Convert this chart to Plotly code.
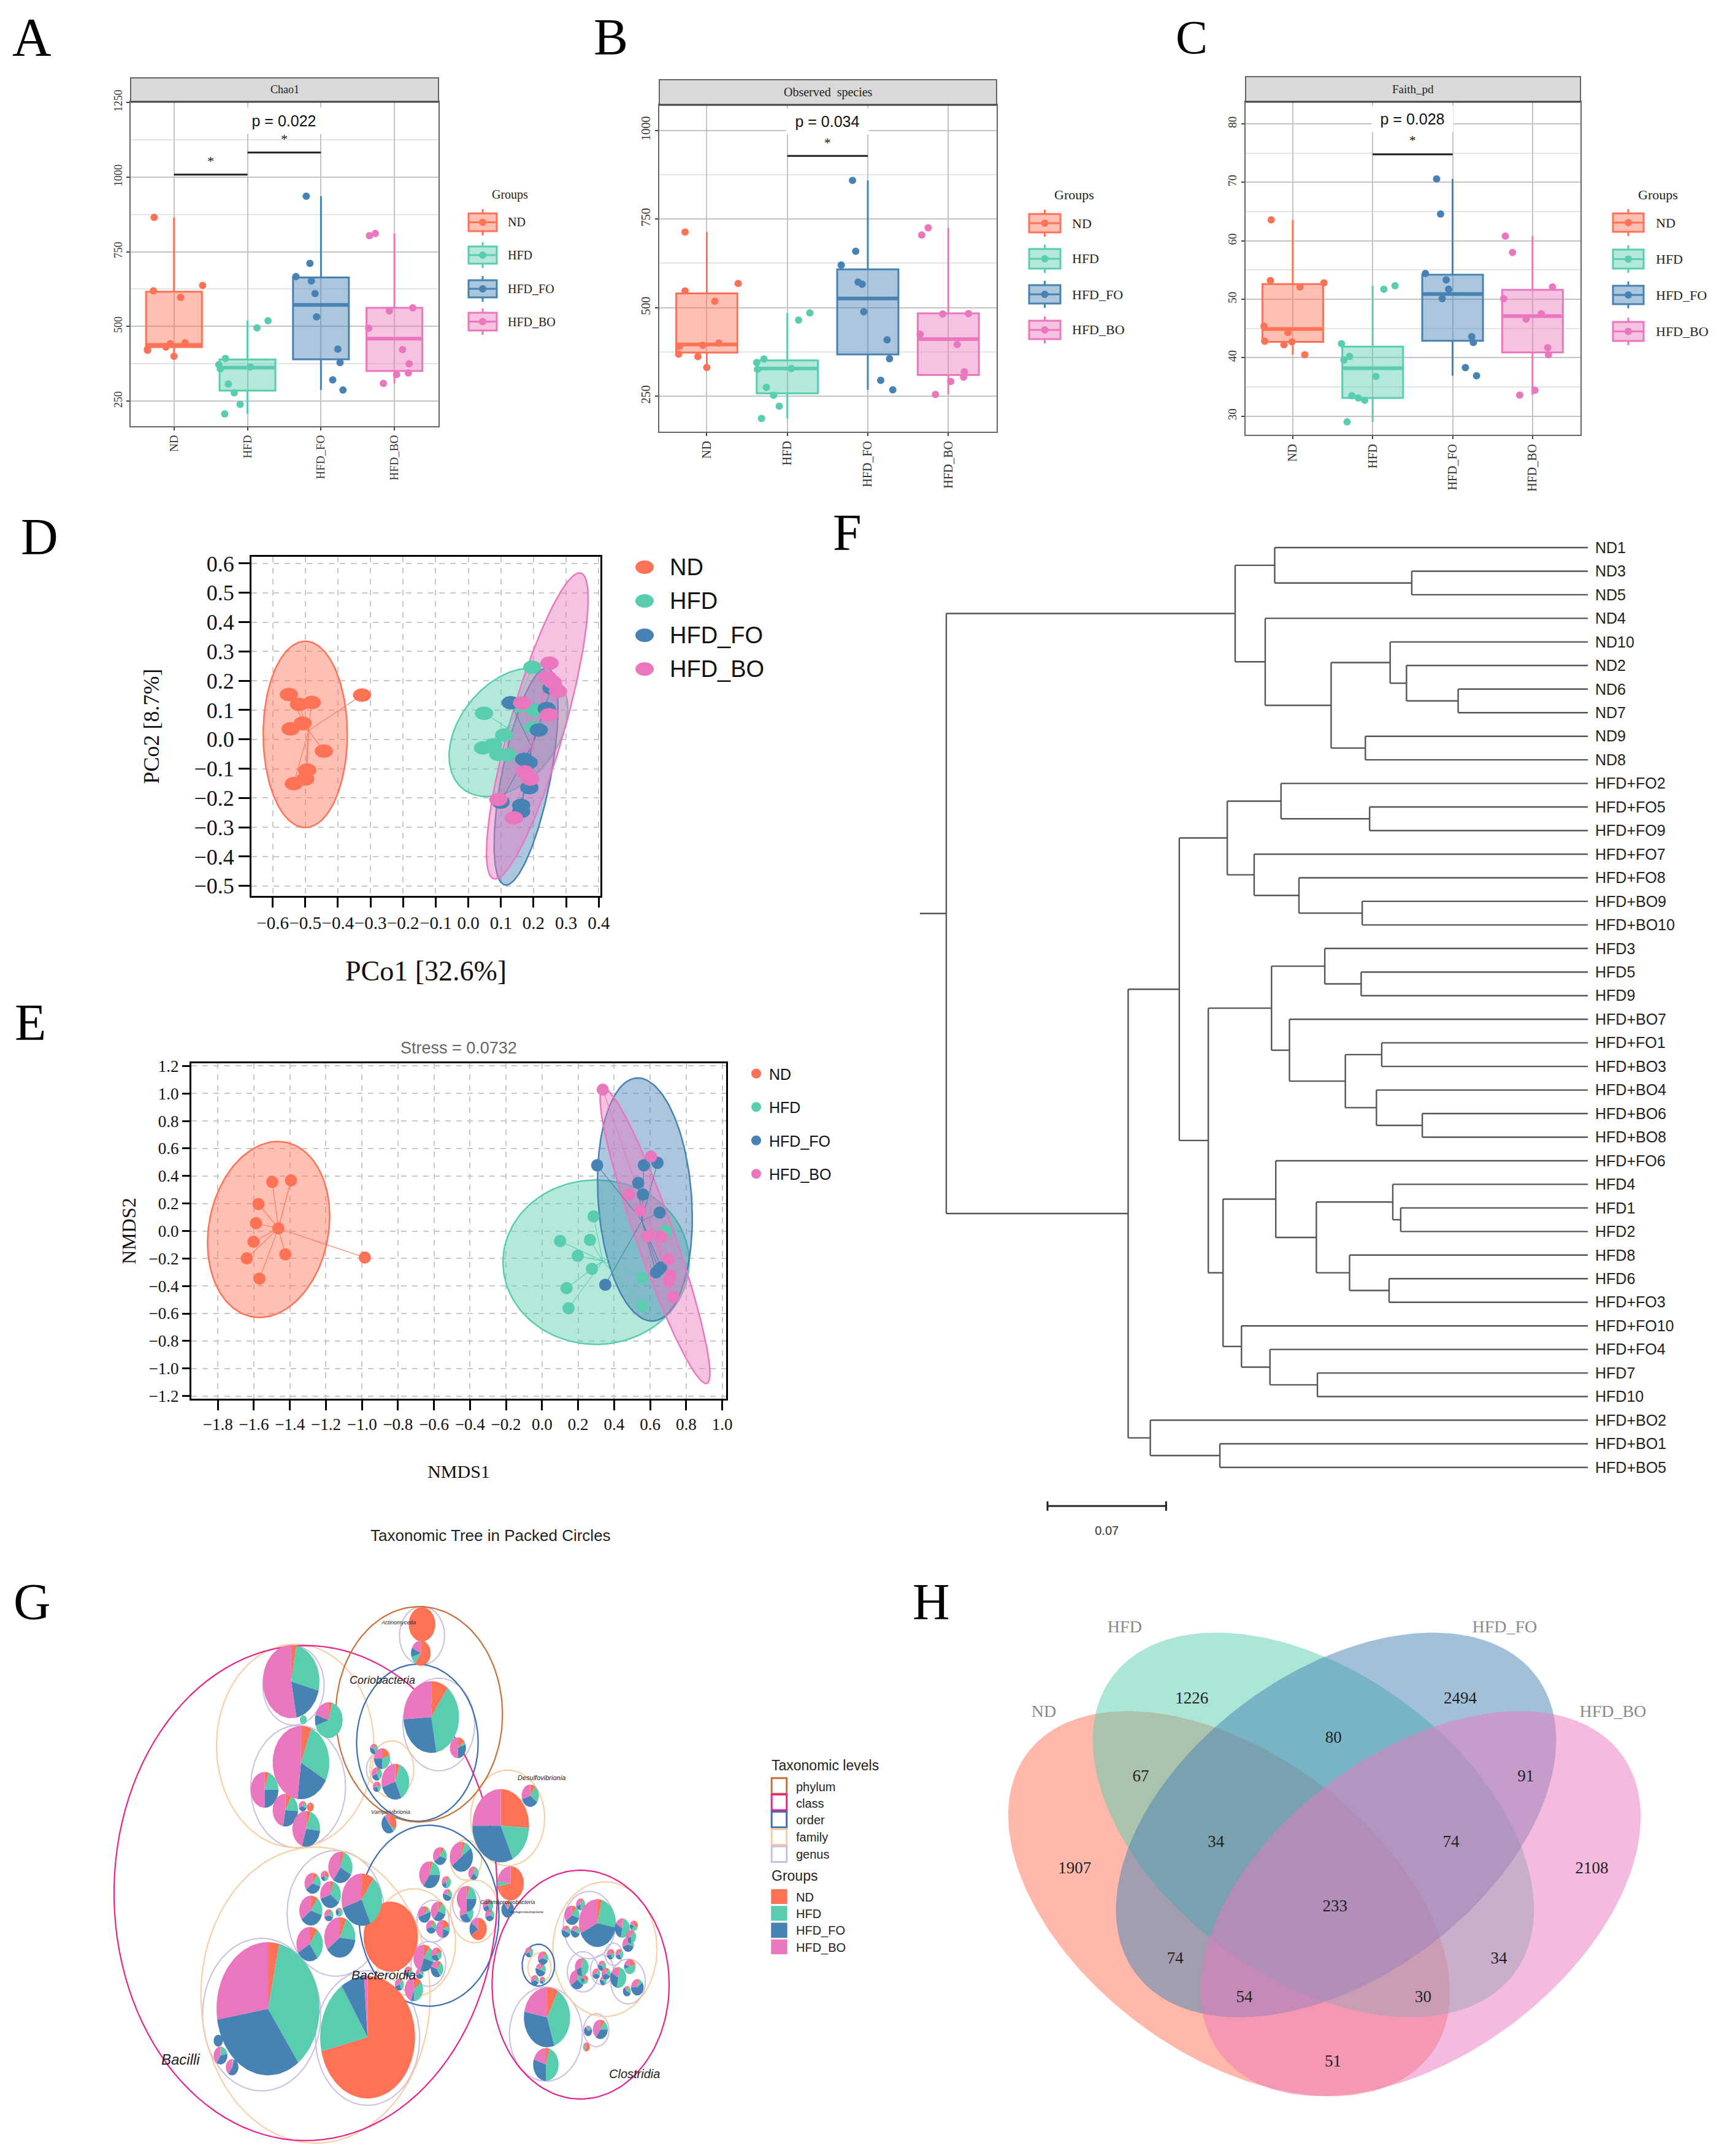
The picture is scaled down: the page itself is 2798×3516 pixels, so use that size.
import numpy as np
import plotly.graph_objects as go

W, H = 2798, 3516
SERIF = "Liberation Serif"
SANS = "Liberation Sans"

groups = ["ND", "HFD", "HFD_FO", "HFD_BO"]
colors = {"ND": "#FF7256", "HFD": "#58CDB0", "HFD_FO": "#4682B4", "HFD_BO": "#EA77BE"}


def rgba(hexc, a):
    return f"rgba({int(hexc[1:3],16)},{int(hexc[3:5],16)},{int(hexc[5:7],16)},{a})"


# ---------- A: Chao1 ----------
chao_x = {
    "ND": [0.73, 1.39, 0.72, 1.09, 0.95, 1.15, 0.89, 0.64, 1.0, 0.64],
    "HFD": [2.28, 2.13, 1.70, 1.61, 1.63, 2.04, 1.74, 1.82, 1.90, 1.69],
    "HFD_FO": [2.80, 2.85, 2.66, 2.87, 2.92, 2.94, 3.23, 3.26, 3.16, 3.30],
    "HFD_BO": [3.74, 3.66, 4.25, 3.93, 3.65, 4.11, 4.20, 4.19, 4.03, 3.85],
}
chao_y = {
    "ND": [865, 637, 619, 597, 442, 445, 431, 420, 400, 424],
    "HFD": [519, 495, 393, 372, 358, 364, 307, 278, 239, 207],
    "HFD_FO": [936, 711, 667, 652, 610, 532, 424, 379, 321, 287],
    "HFD_BO": [811, 804, 562, 552, 494, 422, 375, 344, 339, 309],
}
chao_box = {  # q1, median, q3, low, high
    "ND": [431, 438, 616, 400, 865],
    "HFD": [285, 362, 389, 207, 519],
    "HFD_FO": [390, 572, 664, 287, 936],
    "HFD_BO": [351, 459, 562, 309, 811],
}
# ---------- B: Observed species ----------
obs_x = {
    "ND": [0.73, 1.39, 0.73, 1.10, 0.95, 1.15, 0.66, 0.65, 0.89, 1.0],
    "HFD": [2.28, 2.14, 1.71, 1.62, 1.63, 2.05, 1.74, 1.83, 1.90, 1.68],
    "HFD_FO": [2.81, 2.85, 2.67, 2.88, 2.93, 2.95, 3.24, 3.27, 3.16, 3.31],
    "HFD_BO": [3.75, 3.67, 3.93, 4.25, 3.65, 4.11, 4.20, 4.19, 4.03, 3.84],
}
obs_y = {
    "ND": [713, 568, 547, 518, 394, 400, 391, 369, 362, 331],
    "HFD": [485, 465, 355, 345, 326, 328, 275, 253, 222, 187],
    "HFD_FO": [859, 659, 620, 572, 566, 488, 409, 356, 295, 268],
    "HFD_BO": [725, 705, 482, 483, 425, 396, 319, 304, 292, 255],
}
obs_box = {
    "ND": [373, 396, 540, 331, 713],
    "HFD": [258, 328, 351, 187, 485],
    "HFD_FO": [368, 526, 608, 268, 859],
    "HFD_BO": [310, 411, 484, 255, 725],
}
# ---------- C: Faith_pd ----------
faith_x = {
    "ND": [0.73, 0.72, 1.39, 1.09, 0.64, 0.94, 0.65, 0.99, 0.89, 1.15],
    "HFD": [2.28, 2.14, 1.61, 1.71, 1.64, 2.04, 1.74, 1.82, 1.90, 1.68],
    "HFD_FO": [2.80, 2.85, 2.66, 2.92, 2.95, 2.87, 3.24, 3.26, 3.16, 3.30],
    "HFD_BO": [3.66, 3.75, 4.25, 3.64, 4.11, 3.92, 4.19, 4.20, 4.03, 3.84],
}
faith_y = {
    "ND": [63.6, 53.2, 52.8, 52.1, 45.4, 44.3, 42.8, 42.7, 42.2, 40.5],
    "HFD": [52.3, 51.7, 42.4, 40.2, 39.6, 36.8, 33.5, 33.1, 32.7, 29.0],
    "HFD_FO": [70.6, 64.6, 54.4, 53.3, 51.7, 50.1, 43.6, 42.6, 38.3, 36.9],
    "HFD_BO": [60.8, 58.0, 52.1, 50.1, 47.5, 46.6, 41.7, 40.5, 34.4, 33.6],
}
faith_box = {
    "ND": [42.7, 44.9, 52.6, 40.5, 63.6],
    "HFD": [33.1, 38.2, 41.9, 29.0, 52.3],
    "HFD_FO": [42.9, 50.9, 54.2, 36.9, 70.6],
    "HFD_BO": [40.9, 47.1, 51.6, 33.6, 60.8],
}

# ---------- D: PCoA ----------
pcoa_x = {
    "ND": [-0.326, -0.55, -0.519, -0.48, -0.545, -0.508, -0.443, -0.494, -0.50, -0.535],
    "HFD": [0.196, 0.048, 0.205, 0.20, 0.11, 0.076, 0.045, 0.092, 0.12, 0.162],
    "HFD_FO": [0.13, 0.255, 0.216, 0.171, 0.187, 0.099, 0.162, 0.162, 0.185, 0.24],
    "HFD_BO": [0.249, 0.243, 0.258, 0.275, 0.165, 0.247, 0.173, 0.19, 0.092, 0.14],
}
pcoa_y = {
    "ND": [0.151, 0.153, 0.119, 0.126, 0.036, 0.055, -0.04, -0.105, -0.135, -0.151],
    "HFD": [0.246, 0.089, 0.099, 0.04, 0.015, -0.019, -0.029, -0.051, -0.053, 0.116],
    "HFD_FO": [0.125, 0.175, 0.032, -0.068, -0.165, -0.214, -0.225, -0.246, -0.079, 0.105],
    "HFD_BO": [0.26, 0.211, 0.196, 0.164, 0.124, 0.084, -0.111, -0.135, -0.205, -0.268],
}
pcoa_center = {"ND": (-0.49, 0.03), "HFD": (0.12, 0.04), "HFD_FO": (0.193, -0.024), "HFD_BO": (0.2, 0.013)}
pcoa_ellipse = {  # cx, cy, half-width, half-height, tilt
    "ND": (-0.50, 0.017, 0.129, 0.318, 0.0),
    "HFD": (0.123, 0.024, 0.182, 0.219, 0.37),
    "HFD_FO": (0.177, -0.127, 0.098, 0.37, 0.63),
    "HFD_BO": (0.2115, 0.046, 0.156, 0.522, 0.83),
}

# ---------- E: NMDS ----------
nmds_x = {
    "ND": [-1.498, -1.394, -1.574, -1.588, -1.602, -1.639, -1.425, -1.569, -0.984, -1.464],
    "HFD": [0.286, 0.10, 0.266, 0.198, 0.277, 0.136, 0.147, 0.557, 0.557, 0.689],
    "HFD_FO": [0.306, 0.565, 0.641, 0.534, 0.56, 0.653, 0.351, 0.633, 0.661, 0.647],
    "HFD_BO": [0.337, 0.605, 0.483, 0.545, 0.585, 0.664, 0.703, 0.712, 0.703, 0.726],
}
nmds_y = {
    "ND": [0.357, 0.368, 0.196, 0.057, -0.078, -0.199, -0.17, -0.347, -0.193, 0.019],
    "HFD": [0.106, -0.073, -0.065, -0.181, -0.275, -0.416, -0.562, -0.342, -0.544, 0.0],
    "HFD_FO": [0.478, 0.478, 0.496, 0.35, 0.265, 0.134, -0.391, -0.301, -0.265, -0.283],
    "HFD_BO": [1.028, 0.542, 0.265, 0.147, -0.04, -0.04, -0.206, -0.322, -0.365, -0.48],
}
nmds_center = {"ND": (-1.464, 0.019), "HFD": (0.337, -0.219), "HFD_FO": (0.554, 0.075), "HFD_BO": (0.605, 0.024)}
nmds_ellipse = {
    "ND": (-1.518, 0.011, 0.339, 0.64, 0.15),
    "HFD": (0.30, -0.227, 0.517, 0.598, 0.0),
    "HFD_FO": (0.571, 0.229, 0.263, 0.884, -0.15),
    "HFD_BO": (0.627, -0.037, 0.305, 1.073, -0.93),
}

# ---------- F: dendrogram ----------
tip_labels = ["ND1", "ND3", "ND5", "ND4", "ND10", "ND2", "ND6", "ND7", "ND9", "ND8",
              "HFD+FO2", "HFD+FO5", "HFD+FO9", "HFD+FO7", "HFD+FO8", "HFD+BO9", "HFD+BO10",
              "HFD3", "HFD5", "HFD9", "HFD+BO7", "HFD+FO1", "HFD+BO3", "HFD+BO4", "HFD+BO6",
              "HFD+BO8", "HFD+FO6", "HFD4", "HFD1", "HFD2", "HFD8", "HFD6", "HFD+FO3",
              "HFD+FO10", "HFD+FO4", "HFD7", "HFD10", "HFD+BO2", "HFD+BO1", "HFD+BO5"]
tip_depth = 1325
tree = (108,
        (656,
         (731, "ND1", (991, "ND3", "ND5")),
         (713, "ND4",
          (838,
           (950, "ND10", (981, "ND2", (1079, "ND6", "ND7"))),
           (903, "ND9", "ND8")))),
        (453,
         (550,
          (641,
           (743, "HFD+FO2", (911, "HFD+FO5", "HFD+FO9")),
           (692, "HFD+FO7", (777, "HFD+FO8", (897, "HFD+BO9", "HFD+BO10")))),
          (605,
           (725,
            (826, "HFD3", (895, "HFD5", "HFD9")),
            (759, "HFD+BO7",
             (865,
              (934, "HFD+FO1", "HFD+BO3"),
              (924, "HFD+BO4", (1011, "HFD+BO6", "HFD+BO8"))))),
           (633,
            (733, "HFD+FO6",
             (810,
              (955, "HFD4", (970, "HFD1", "HFD2")),
              (873, "HFD8", (948, "HFD6", "HFD+FO3")))),
            (668, "HFD+FO10", (722, "HFD+FO4", (812, "HFD7", "HFD10")))))),
         (495, "HFD+BO2", (627, "HFD+BO1", "HFD+BO5"))))
root_stub = 58
scale_bar = (300, 525)
scale_label = "0.07"

# ---------- G: packed circles (cx, cy, horizontal radius) ----------
phylum_nodes = [(724, 434, 144)]
class_nodes = [(528, 893, 331), (1003, 1128, 153)]
order_nodes = [(721, 507, 105), (741, 951, 121), (930, 1078, 28)]
family_nodes = [(510, 515, 136), (545, 1155, 198), (677, 575, 38), (877, 700, 64),
                (1045, 1037, 90), (715, 1020, 72), (820, 940, 42), (805, 808, 27), (932, 1085, 20)]
genus_nodes = [(507, 360, 53), (515, 620, 82), (729, 232, 39), (758, 460, 62), (655, 575, 22),
               (580, 945, 84), (452, 1205, 102), (635, 1265, 90), (748, 965, 28), (740, 1075, 30),
               (806, 922, 24), (1018, 975, 45), (1007, 1095, 27), (1085, 1120, 30), (943, 1255, 63),
               (1030, 1245, 22), (1040, 1090, 20), (1060, 1050, 15)]
pie_nodes = [  # cx, cy, rx, ND, HFD, HFD_FO, HFD_BO
    (463, 1190, 89, .035, .365, .324, .276), (635, 1263, 82, .713, .195, .08, .012),
    (675, 1005, 47, 1, 0, 0, 0), (503, 350, 49, .03, .26, .18, .53),
    (520, 558, 49, .06, .27, .19, .48), (457, 628, 24, .05, .2, .25, .5),
    (493, 680, 22, .08, .18, .27, .47), (529, 728, 24, .05, .22, .28, .45),
    (568, 449, 24, .04, .66, .1, .2), (524, 448, 6, 0, 1, 0, 0),
    (729, 203, 23, 1, 0, 0, 0), (727, 277, 17, .6, .1, .12, .18),
    (745, 441, 48, .1, .37, .27, .26), (791, 520, 14, .15, .05, .3, .5),
    (683, 607, 24, .05, .38, .27, .30), (660, 548, 14, .2, .3, .25, .25),
    (651, 587, 9, .1, .3, .3, .3), (651, 620, 7, .2, .2, .3, .3), (646, 523, 7, .1, .3, .4, .2),
    (672, 715, 13, .35, .05, .5, .1), (523, 670, 7, .1, .2, .4, .3), (536, 672, 6, .9, 0, 0, .1),
    (865, 720, 49, .26, .17, .32, .25), (916, 643, 15, .1, .25, .35, .3),
    (882, 868, 23, .72, .05, 0, .23), (797, 800, 20, .05, .1, .5, .35),
    (760, 798, 12, .1, .2, .35, .35), (742, 846, 18, .05, .2, .35, .4),
    (818, 842, 9, .05, .3, .25, .4), (771, 865, 8, .1, .4, .2, .3), (773, 898, 8, .1, .2, .5, .2),
    (625, 910, 35, .1, .33, .27, .3), (588, 827, 21, .05, .28, .27, .4),
    (571, 897, 18, .05, .3, .35, .3), (540, 868, 14, .1, .2, .35, .35), (561, 849, 7, .3, .2, .2, .3),
    (537, 938, 20, .1, .2, .35, .35), (535, 1024, 23, .1, .3, .27, .33),
    (587, 1007, 27, .07, .2, .38, .35), (568, 950, 8, .1, .2, .4, .3), (586, 942, 6, .1, .5, .3, .1),
    (715, 1140, 16, .15, .35, .05, .45), (690, 1128, 8, .1, .3, .3, .3), (705, 1095, 7, .2, .2, .3, .3),
    (732, 1060, 18, .1, .2, .25, .45), (754, 1050, 9, .2, .2, .3, .3), (755, 1088, 11, .1, .3, .4, .2),
    (725, 1100, 7, .1, .2, .4, .3), (757, 940, 13, .1, .2, .3, .4), (733, 948, 11, .1, .1, .5, .3),
    (765, 985, 12, .2, .1, .2, .5), (745, 980, 9, .1, .2, .4, .3), (806, 908, 17, .05, .2, .25, .5),
    (806, 945, 12, .1, .3, .3, .3), (826, 985, 15, .65, 0, .2, .15), (843, 925, 9, .1, .3, .3, .3),
    (846, 950, 8, .1, .2, .4, .3), (877, 935, 11, .05, .05, .8, .1), (377, 1272, 8, 0, 0, 1, 0),
    (381, 1310, 12, .02, .2, .38, .4), (401, 1340, 11, .02, .03, .55, .4),
    (1032, 970, 32, .04, .24, .40, .32), (988, 950, 13, .1, .2, .35, .35), (1003, 922, 8, .1, .4, .2, .3),
    (978, 992, 8, .1, .2, .5, .2), (994, 992, 8, .1, .2, .5, .2), (1075, 983, 13, .03, .5, .3, .17),
    (1095, 977, 7, .3, .3, .2, .2), (1090, 1005, 9, .1, .4, .2, .3), (1085, 1025, 10, .1, .2, .4, .3),
    (1005, 1083, 12, .05, .45, .2, .3), (997, 1115, 13, .05, .3, .3, .35), (1010, 1115, 6, .3, .3, .2, .2),
    (1040, 1080, 7, .1, .3, .4, .2), (1030, 1100, 7, .1, .2, .4, .3), (1047, 1100, 8, .1, .2, .4, .3),
    (1042, 1118, 6, .1, .3, .4, .2), (1055, 1050, 7, .2, .2, .3, .3), (1070, 1050, 7, .1, .3, .3, .3),
    (1068, 1110, 14, .03, .5, .3, .17), (1088, 1082, 10, .2, .5, .1, .2), (1101, 1135, 11, .05, .1, .6, .25),
    (1083, 1145, 7, .1, .2, .6, .1), (945, 1212, 40, .08, .37, .33, .22), (943, 1333, 22, .05, .45, .3, .2),
    (1037, 1243, 13, .1, .15, .35, .4), (1016, 1247, 7, .05, .15, .7, .1), (1013, 1288, 6, .6, .2, 0, .2),
    (914, 1045, 7, .1, .3, .3, .3), (938, 1060, 9, .1, .2, .4, .3), (934, 1090, 9, .1, .2, .5, .2),
    (924, 1117, 7, .1, .2, .4, .3), (937, 1117, 5, .2, .2, .3, .3),
]
taxa_labels = [("Bacilli", 312, 1320, 24), ("Clostridia", 1096, 1357, 20), ("Bacteroidia", 663, 1103, 21),
               ("Coriobacteria", 661, 346, 18), ("Actinomycetia", 688, 199, 9), ("Desulfovibrionia", 936, 597, 11),
               ("Vampirivibrionia", 675, 685, 9), ("Gammaproteobacteria", 877, 916, 9), ("Alphaproteobacteria", 910, 941, 6)]
tax_levels = ["phylum", "class", "order", "family", "genus"]
tax_colors = ["#C8703A", "#E8228C", "#3C6EB4", "#FBCB9E", "#C9BFE2"]

# ---------- H: Venn ----------
venn_ellipses = {
    "ND": (623.5, 893, 428.5, 515, 0.46),
    "HFD": (787, 682.5, 428, 514.5, 0.44),
    "HFD_FO": (831, 682.5, 427, 514.5, -0.44),
    "HFD_BO": (995, 893, 427, 515, -0.45),
}
venn_counts = [1907, 1226, 2494, 2108, 67, 80, 91, 34, 74, 233, 74, 34, 54, 30, 51]
venn_cx = [324, 551, 1072, 1327, 452, 826, 1199, 598, 1054, 829, 519, 1147, 653, 1000, 825]
venn_cy = [800, 347, 347, 800, 555, 451, 555, 730, 730, 903, 1042, 1042, 1146, 1146, 1318]
venn_names_x = [264, 421, 1158, 1368]
venn_names_y = [382, 156, 156, 382]

# =========================================================================
fig = go.Figure()
shapes, annos = [], []
layout = {}


def px(x):
    return x / W


def py(y):
    return 1 - y / H


def ids(i):
    return ("x" if i == 1 else f"x{i}"), ("y" if i == 1 else f"y{i}")


def panel(i, box, xa, ya):
    x0, x1, y0, y1 = box
    xn = "xaxis" if i == 1 else f"xaxis{i}"
    yn = "yaxis" if i == 1 else f"yaxis{i}"
    xid, yid = ids(i)
    layout[xn] = dict(domain=[px(x0), px(x1)], anchor=yid, zeroline=False, **xa)
    layout[yn] = dict(domain=[py(y1), py(y0)], anchor=xid, zeroline=False, **ya)
    return xid, yid


def letter(t, x, y, size=84):
    annos.append(dict(text=t, x=px(x), y=py(y), xref="paper", yref="paper", xanchor="left", yanchor="middle",
                      showarrow=False, font=dict(family=SERIF, size=size, color="#000")))


def ptext(t, x, y, size, family=SERIF, color="#222", xanchor="left"):
    annos.append(dict(text=t, x=px(x), y=py(y), xref="paper", yref="paper", xanchor=xanchor, yanchor="middle",
                      showarrow=False, font=dict(family=family, size=size, color=color)))


def ell(cx, cy, a, b, rho, n=160):
    t = np.linspace(0, 2 * np.pi, n)
    return cx + a * np.cos(t), cy + b * (rho * np.cos(t) + np.sqrt(1 - rho ** 2) * np.sin(t))


def box_panel(i, frame, strip_top, xr, yr, major, minor, xs, ys, boxes, brackets, ptxt, pspan, title, fsz, xfsz,
              leg_keys, leg_txt_x, leg_title_x, leg_size):
    x0, x1, y0, y1 = frame
    xa = dict(range=xr, tickmode="array", tickvals=[1, 2, 3, 4], ticktext=groups, tickangle=-90,
              showgrid=True, gridcolor="#c4c4c4", gridwidth=2, ticks="outside", ticklen=5, tickwidth=2,
              tickcolor="#444", showline=True, mirror=True, linecolor="#666", linewidth=2,
              tickfont=dict(family=SERIF, size=xfsz, color="#333"))
    ya = dict(range=yr, tickmode="array", tickvals=major, tickangle=-90, showgrid=True, gridcolor="#c4c4c4",
              gridwidth=2, ticks="outside", ticklen=5, tickwidth=2, tickcolor="#444", showline=True, mirror=True,
              linecolor="#666", linewidth=2, tickfont=dict(family=SERIF, size=fsz, color="#333"),
              minor=dict(tickvals=minor, showgrid=True, gridcolor="#e4e4e4", gridwidth=2, ticks=""))
    xid, yid = panel(i, frame, xa, ya)
    for k, g in enumerate(groups):
        q1, med, q3, lo, hi = boxes[g]
        c = colors[g]
        fig.add_trace(go.Box(x=[k + 1], q1=[q1], median=[med], q3=[q3], lowerfence=[lo], upperfence=[hi], width=0.76,
                             whiskerwidth=0, fillcolor=rgba(c, 0.45), line=dict(color=c, width=3), xaxis=xid, yaxis=yid,
                             showlegend=False, name=g, boxpoints=False))
        fig.add_trace(go.Scatter(x=[k + 1 - 0.38, k + 1 + 0.38], y=[med, med], mode="lines",
                                 line=dict(color=c, width=6), xaxis=xid, yaxis=yid, showlegend=False, hoverinfo="skip"))
        fig.add_trace(go.Scatter(x=xs[g], y=ys[g], mode="markers", marker=dict(color=c, size=12), xaxis=xid, yaxis=yid,
                                 showlegend=False, name=g))
    for a, b, yl, ys_ in brackets:
        fig.add_trace(go.Scatter(x=[a, b], y=[yl, yl], mode="lines", line=dict(color="#222", width=3), xaxis=xid,
                                 yaxis=yid, showlegend=False, hoverinfo="skip"))
        fig.add_trace(go.Scatter(x=[(a + b) / 2], y=[ys_], mode="text", text=["*"],
                                 textfont=dict(family=SERIF, size=22, color="#111"), xaxis=xid, yaxis=yid,
                                 showlegend=False, hoverinfo="skip"))
    annos.append(dict(text=ptxt[0], x=2.5, y=ptxt[1], xref=xid, yref=yid, showarrow=False, bgcolor="#fff",
                      width=pspan, height=40, font=dict(family=SANS, size=25, color="#111")))
    # facet strip
    dom_y = (y1 - y0)
    xd, yd = f"{xid} domain", f"{yid} domain"
    shapes.append(dict(type="rect", xref=xd, yref=yd, x0=0, x1=1, y0=1, y1=1 + (y0 - strip_top) / dom_y,
                       fillcolor="#d9d9d9", line=dict(color="#666", width=2)))
    shapes.append(dict(type="line", xref=xd, yref=yd, x0=0, x1=1, y0=1, y1=1, line=dict(color="#444", width=3)))
    annos.append(dict(text=title, x=0.5, y=1 + (y0 - strip_top) / dom_y / 2, xref=xd, yref=yd, showarrow=False,
                      xanchor="center", yanchor="middle", font=dict(family=SERIF, size=fsz, color="#222")))
    # legend keys
    ptext("Groups", leg_title_x, 317, leg_size, xanchor="center")
    kx0, kx1 = leg_keys[0]
    for g, (ky0, ky1) in zip(groups, leg_keys[1:]):
        c = colors[g]
        ym = (ky0 + ky1) / 2
        xm = (kx0 + kx1) / 2
        shapes.append(dict(type="line", xref="paper", yref="paper", x0=px(xm), x1=px(xm), y0=py(ky0 - 7), y1=py(ky1 + 7),
                           line=dict(color=c, width=3)))
        shapes.append(dict(type="rect", xref="paper", yref="paper", x0=px(kx0), x1=px(kx1), y0=py(ky1), y1=py(ky0),
                           fillcolor="#fff", line=dict(width=0)))
        shapes.append(dict(type="rect", xref="paper", yref="paper", x0=px(kx0), x1=px(kx1), y0=py(ky1), y1=py(ky0),
                           fillcolor=rgba(c, 0.45), line=dict(color=c, width=3)))
        shapes.append(dict(type="line", xref="paper", yref="paper", x0=px(kx0), x1=px(kx1), y0=py(ym), y1=py(ym),
                           line=dict(color=c, width=3)))
        shapes.append(dict(type="circle", xref="paper", yref="paper", x0=px(xm - 6), x1=px(xm + 6), y0=py(ym + 6), y1=py(ym - 6),
                           fillcolor=c, line=dict(width=0)))
        ptext(g, leg_txt_x, ym, leg_size)


box_panel(1, (213, 715, 166, 695), 127, [0.41, 4.6], [166, 1252], [250, 500, 750, 1000, 1250], [375, 625, 875, 1125],
          chao_x, chao_y, chao_box, [(1, 2, 1008, 1049), (2, 3, 1082, 1123)], ("p = 0.022", 1189), 120, "Chao1", 18, 19,
          [(764, 810), (348, 377), (402, 430), (457, 485), (510, 539)], 826, 831, 20)
box_panel(2, (1075, 1625, 171, 704), 130, [0.41, 4.6], [150, 1072], [250, 500, 750, 1000], [375, 625, 875],
          obs_x, obs_y, obs_box, [(2, 3, 928, 962)], ("p = 0.034", 1026), 132, "Observed  species", 20, 20,
          [(1678, 1729), (349, 379), (406, 438), (465, 495), (523, 553)], 1746, 1752, 22)
box_panel(3, (2031, 2577, 166, 709), 125, [0.41, 4.6], [26.8, 83.8], [30, 40, 50, 60, 70, 80], [35, 45, 55, 65, 75],
          faith_x, faith_y, faith_box, [(2, 3, 74.8, 77)], ("p = 0.028", 80.9), 130, "Faith_pd", 19, 20,
          [(2630, 2680), (348, 378), (407, 438), (466, 496), (525, 556)], 2698, 2703, 22)
letter("A", 18, 60, 88)
letter("B", 966, 60, 84)
letter("C", 1915, 60, 78)


def ord_panel(i, frame, xa_extra, ya_extra, xs, ys, centers, ells, msize, legend_name=None, dot_radii=None):
    xid, yid = panel(i, frame, xa_extra, ya_extra)
    for g in groups:
        ex, ey = ell(*ells[g])
        fig.add_trace(go.Scatter(x=ex, y=ey, mode="lines", fill="toself", fillcolor=rgba(colors[g], 0.45),
                                 line=dict(color=colors[g], width=2.5), xaxis=xid, yaxis=yid, showlegend=False,
                                 hoverinfo="skip"))
    for g in groups:
        lx, ly = [], []
        for a, b in zip(xs[g], ys[g]):
            lx += [centers[g][0], a, None]
            ly += [centers[g][1], b, None]
        fig.add_trace(go.Scatter(x=lx, y=ly, mode="lines", line=dict(color=rgba(colors[g], 0.9), width=1.2), xaxis=xid,
                                 yaxis=yid, showlegend=False, hoverinfo="skip"))
    for g in groups:
        if dot_radii is not None:
            dx, dy = [], []
            t = np.linspace(0, 2 * np.pi, 36)
            for a, b in zip(xs[g], ys[g]):
                dx += list(a + dot_radii[0] * np.cos(t)) + [None]
                dy += list(b + dot_radii[1] * np.sin(t)) + [None]
            fig.add_trace(go.Scatter(x=dx, y=dy, mode="lines", fill="toself", fillcolor=colors[g], line=dict(width=0),
                                     name=g, xaxis=xid, yaxis=yid, showlegend=False))
        else:
            fig.add_trace(go.Scatter(x=xs[g], y=ys[g], mode="markers", name=g, marker=dict(color=colors[g], size=msize),
                                     xaxis=xid, yaxis=yid, legend=legend_name, legendgroup=f"{legend_name}{g}"))


def ord_axis(rng, vals, size, title, tsize, standoff, ticklen):
    return dict(range=rng, tickmode="array", tickvals=vals, ticktext=[f"{v:.1f}".replace("-", "\u2212") for v in vals],
                tickangle=0, showgrid=True, gridcolor="#c8c8c8", gridwidth=2, griddash="dash", ticks="outside", ticklen=ticklen,
                tickwidth=2.5, tickcolor="#000", showline=True, mirror=True, linecolor="#000", linewidth=3,
                tickfont=dict(family=SERIF, size=size, color="#111"),
                title=dict(text=title, font=dict(family=SERIF, size=tsize, color="#111"), standoff=standoff))


d_xt = [-0.6, -0.5, -0.4, -0.3, -0.2, -0.1, 0.0, 0.1, 0.2, 0.3, 0.4]
d_yt = [0.6, 0.5, 0.4, 0.3, 0.2, 0.1, 0.0, -0.1, -0.2, -0.3, -0.4, -0.5]
ord_panel(4, (410, 979, 908, 1461), ord_axis([-0.665, 0.405], d_xt, 29, "PCo1 [32.6%]", 46, 48, 16),
          ord_axis([-0.534, 0.623], d_yt, 36, "PCo2 [8.7%]", 36, 46, 18),
          pcoa_x, pcoa_y, pcoa_center, pcoa_ellipse, 26, dot_radii=(0.0282, 0.023))
for g, ky in zip(groups, [925, 980, 1036, 1091]):
    shapes.append(dict(type="circle", xref="paper", yref="paper", x0=px(1036), x1=px(1066), y0=py(ky + 11), y1=py(ky - 11),
                       fillcolor=colors[g], line=dict(width=0)))
    ptext(g, 1090, ky, 38, family=SANS, color="#111")
e_xt = [-1.8, -1.6, -1.4, -1.2, -1.0, -0.8, -0.6, -0.4, -0.2, 0.0, 0.2, 0.4, 0.6, 0.8, 1.0]
e_yt = [1.2, 1.0, 0.8, 0.6, 0.4, 0.2, 0.0, -0.2, -0.4, -0.6, -0.8, -1.0, -1.2]
ord_panel(5, (312, 1184, 1734, 2281), ord_axis([-1.947, 1.022], e_xt, 27, "NMDS1", 30, 52, 16),
          ord_axis([-1.22, 1.22], e_yt, 27, "NMDS2", 32, 12, 12),
          nmds_x, nmds_y, nmds_center, nmds_ellipse, 20, "legend")
ptext("Stress = 0.0732", 748, 1709, 27, family=SANS, color="#666", xanchor="center")
ptext("Taxonomic Tree in Packed Circles", 800, 2504, 26, family=SANS, color="#222", xanchor="center")
letter("D", 32, 876)
letter("E", 22, 1668)
letter("F", 1356, 868)
letter("G", 20, 2612)
letter("H", 1486, 2612)

layout["legend"] = dict(x=px(1212), y=py(1728), xanchor="left", yanchor="top", itemwidth=32, tracegroupgap=19,
                        font=dict(family=SANS, size=25, color="#111"), bgcolor="rgba(0,0,0,0)")

# ---------- F ----------
tip_index = {n: k for k, n in enumerate(tip_labels)}
seg_x, seg_y = [], []


def walk(node):
    if isinstance(node, str):
        return tip_depth, tip_index[node]
    depth, a, b = node
    ax, ay = walk(a)
    bx, by = walk(b)
    seg_x.extend([depth, depth, None, depth, ax, None, depth, bx, None])
    seg_y.extend([ay, by, None, ay, ay, None, by, by, None])
    return depth, (ay + by) / 2


root_x, root_y = walk(tree)
seg_x.extend([root_stub, root_x, None])
seg_y.extend([root_y, root_y, None])
tip_step = 38.46
fx0, fx1 = 1500, 2589
fy0 = 893 - 0.5 * tip_step
fy1 = 893 + 43 * tip_step
xid6, yid6 = panel(6, (fx0, fx1, fy0, fy1),
                   dict(range=[root_stub, tip_depth], visible=False),
                   dict(range=[43, -0.5], side="right", tickmode="array", tickvals=list(range(40)), ticktext=tip_labels,
                        showgrid=False, showline=False, ticks="outside", ticklen=6, tickcolor="rgba(0,0,0,0)",
                        tickfont=dict(family=SANS, size=25, color="#222")))
fig.add_trace(go.Scatter(x=seg_x, y=seg_y, mode="lines", line=dict(color="#555", width=2.4), xaxis=xid6, yaxis=yid6,
                         showlegend=False, hoverinfo="skip"))
bar_y = 40.64
fig.add_trace(go.Scatter(x=[scale_bar[0], scale_bar[0], None, scale_bar[0], scale_bar[1], None, scale_bar[1], scale_bar[1]],
                         y=[bar_y - .2, bar_y + .2, None, bar_y, bar_y, None, bar_y - .2, bar_y + .2], mode="lines",
                         line=dict(color="#222", width=3), xaxis=xid6, yaxis=yid6, showlegend=False, hoverinfo="skip"))
fig.add_trace(go.Scatter(x=[sum(scale_bar) / 2], y=[41.73], mode="text", text=[scale_label],
                         textfont=dict(family=SANS, size=20, color="#333"), xaxis=xid6, yaxis=yid6, showlegend=False,
                         hoverinfo="skip"))

# ---------- G ----------
RY = 1.92
xid7, yid7 = panel(7, (0, 1480, 2520, 3516), dict(range=[0, 1568], visible=False), dict(range=[1568, 0], visible=False))


def outline(nodes):
    xs, ys = [], []
    t = np.linspace(0, 2 * np.pi, 120)
    for cx, cy, r in nodes:
        xs += list(cx + r * np.cos(t)) + [None]
        ys += list(cy + r * RY * np.sin(t)) + [None]
    return xs, ys


for lvl, c, nodes, w in [("genus", tax_colors[4], genus_nodes, 2), ("family", tax_colors[3], family_nodes, 2),
                         ("order", tax_colors[2], order_nodes, 2.2), ("class", tax_colors[1], class_nodes, 2.2),
                         ("phylum", tax_colors[0], phylum_nodes, 2.2)]:
    xs, ys = outline(nodes)
    fig.add_trace(go.Scatter(x=xs, y=ys, mode="lines", line=dict(color=c, width=w), xaxis=xid7, yaxis=yid7,
                             showlegend=False, name=lvl, hoverinfo="skip"))
for gi, g in enumerate(groups):
    xs, ys = [], []
    for node in pie_nodes:
        cx, cy, r = node[:3]
        sh = np.array(node[3:], dtype=float)
        sh = sh / sh.sum()
        a0 = sh[:gi].sum() * 2 * np.pi
        a1 = sh[:gi + 1].sum() * 2 * np.pi
        if a1 - a0 < 1e-6:
            continue
        th = np.linspace(a0, a1, max(3, int((a1 - a0) * 16)))
        xs += [cx] + list(cx + r * np.sin(th)) + [cx, None]
        ys += [cy] + list(cy - r * RY * np.cos(th)) + [cy, None]
    fig.add_trace(go.Scatter(x=xs, y=ys, mode="lines", fill="toself", fillcolor=colors[g], line=dict(width=0), xaxis=xid7,
                             yaxis=yid7, showlegend=False, name=g, hoverinfo="skip"))
for t, x, y, s in taxa_labels:
    annos.append(dict(text=f"<i>{t}</i>", x=x, y=y, xref=xid7, yref=yid7, showarrow=False,
                      font=dict(family=SANS, size=s, color="#222")))
# G legends
annos.append(dict(text="Taxonomic levels", x=1331, y=565, xref=xid7, yref=yid7, showarrow=False, xanchor="left",
                  font=dict(family=SANS, size=23, color="#222")))
for lv, c, y0_, y1_, ty in zip(tax_levels, tax_colors, [598, 640, 684, 729, 773], [638, 680, 724, 769, 813],
                               [620, 663, 705, 749, 794]):
    shapes.append(dict(type="rect", xref=xid7, yref=yid7, x0=1333, x1=1359, y0=y0_, y1=y1_, fillcolor="#fff",
                       line=dict(color=c, width=3)))
    annos.append(dict(text=lv, x=1373, y=ty, xref=xid7, yref=yid7, showarrow=False, xanchor="left",
                      font=dict(family=SANS, size=20, color="#222")))
annos.append(dict(text="Groups", x=1331, y=849, xref=xid7, yref=yid7, showarrow=False, xanchor="left",
                  font=dict(family=SANS, size=23, color="#222")))
for g, y0_, y1_, ty in zip(groups, [883, 926, 969, 1012], [921, 964, 1008, 1050], [904, 946, 989, 1033]):
    shapes.append(dict(type="rect", xref=xid7, yref=yid7, x0=1332, x1=1360, y0=y0_, y1=y1_, fillcolor=colors[g],
                       line=dict(width=0)))
    annos.append(dict(text=g, x=1373, y=ty, xref=xid7, yref=yid7, showarrow=False, xanchor="left",
                      font=dict(family=SANS, size=20, color="#222")))

# ---------- H ----------
xid8, yid8 = panel(8, (1480, 2798, 2560, 3516), dict(range=[0, 1568], visible=False), dict(range=[1568, 0], visible=False))
for g in groups:
    ex, ey = ell(*venn_ellipses[g], n=240)
    fig.add_trace(go.Scatter(x=ex, y=ey, mode="lines", fill="toself", fillcolor=rgba(colors[g], 0.5), line=dict(width=0),
                             xaxis=xid8, yaxis=yid8, showlegend=False, name=g, hoverinfo="skip"))
fig.add_trace(go.Scatter(x=venn_cx, y=venn_cy, mode="text", text=[str(v) for v in venn_counts],
                         textfont=dict(family=SERIF, size=27, color="#222"), xaxis=xid8, yaxis=yid8, showlegend=False,
                         hoverinfo="skip"))
fig.add_trace(go.Scatter(x=venn_names_x, y=venn_names_y, mode="text", text=groups,
                         textfont=dict(family=SERIF, size=28, color="#8a8a8a"), xaxis=xid8, yaxis=yid8, showlegend=False,
                         hoverinfo="skip"))

fig.update_layout(width=W, height=H, margin=dict(l=0, r=0, t=0, b=0), template="none", paper_bgcolor="#fff",
                  plot_bgcolor="#fff", shapes=shapes, annotations=annos, boxmode="overlay", hovermode=False, **layout)
fig.write_html("out.html", config={"displayModeBar": False},
               post_script="document.body.style.margin='0';document.body.style.overflow='hidden';")
